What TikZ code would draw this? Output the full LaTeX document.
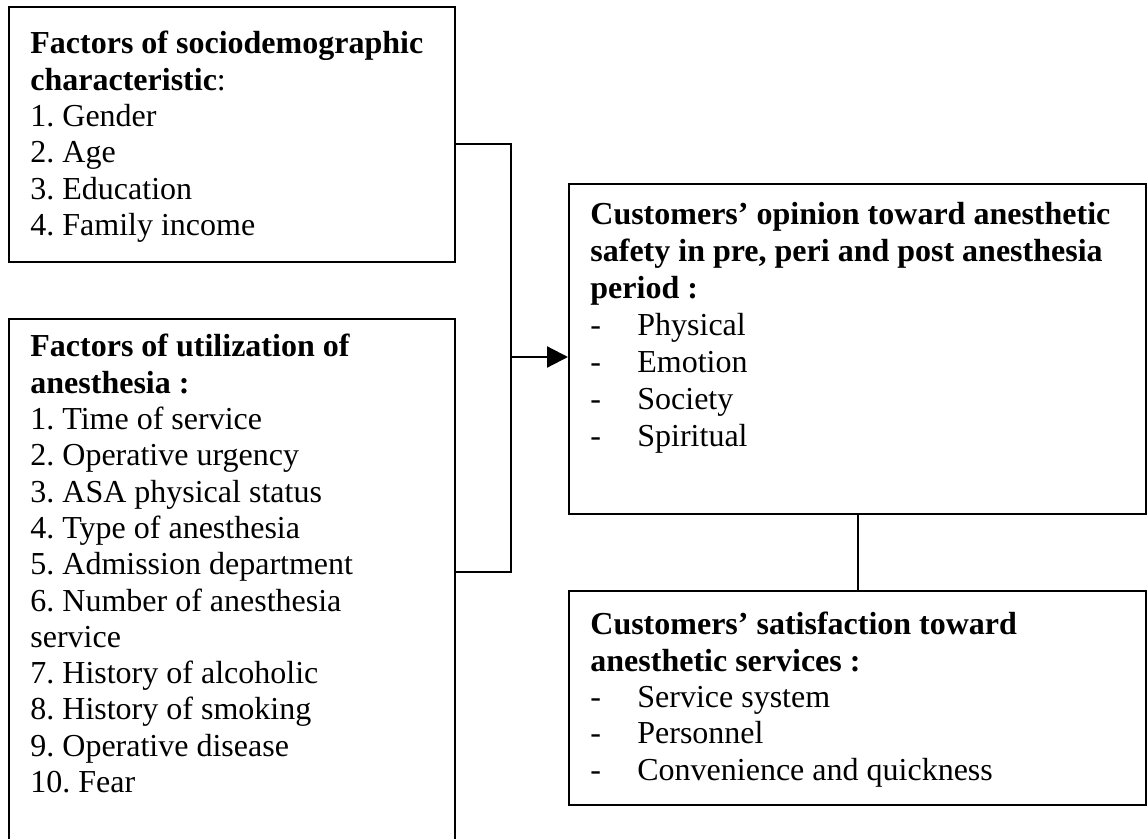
\documentclass[tikz,border=0pt]{standalone}
\usepackage{fontspec}
\setmainfont{Liberation Serif}
\usetikzlibrary{calc, positioning, arrows.meta}
\newcommand{\itm}[1]{\makebox[23.5pt][l]{-}#1}

\begin{document}
\frenchspacing
\begin{tikzpicture}
			[x=0.5pt, y=-0.5pt,
			box/.style={draw, rectangle, line width=1.1pt, anchor=north west, inner sep=0pt},
			txt/.style={anchor=north west, align=left, inner sep=0pt, font=\fontsize{16}{18.15}\selectfont}]
			\useasboundingbox (0,0) rectangle (1147,839);
			\clip (0,0) rectangle (1147,839);
			% boxes %
			\node[box, minimum width=223pt, minimum height=127.5pt] (soc) at (8,6) {};
			\node[box, minimum width=223pt, minimum height=266.5pt] (util) at (8,318) {};
			\node[box, minimum width=288.5pt, minimum height=165pt] (opin) at (568,183) {};
			\node[box, minimum width=288.5pt, minimum height=107pt] (sat) at (568,590) {};

			% texts %
			\node[txt] (soctxt) at (30,31) {\textbf{Factors of sociodemographic}\\\textbf{characteristic}:\\1. Gender\\2. Age\\3. Education\\4. Family income};
			\node[txt] (utiltxt) at (30,334) {\textbf{Factors of utilization of}\\\textbf{anesthesia :}\\1. Time of service\\2. Operative urgency\\3. ASA physical status\\4. Type of anesthesia\\5. Admission department\\6. Number of anesthesia\\service\\7. History of alcoholic\\8. History of smoking\\9. Operative disease\\10. Fear};
			\node[txt, font=\fontsize{16}{18.5}\selectfont] (opintxt) at (590,202) {\textbf{Customers’ opinion toward anesthetic}\\\textbf{safety in pre, peri and post anesthesia}\\\textbf{period :}\\\itm{Physical}\\\itm{Emotion}\\\itm{Society}\\\itm{Spiritual}};
			\node[txt] (sattxt) at (590,612) {\textbf{Customers’ satisfaction toward}\\\textbf{anesthetic services :}\\\itm{Service system}\\\itm{Personnel}\\\itm{Convenience and quickness}};

			% edges %
			\coordinate (j) at (511,357);
			\draw[line width=1.1pt] ($(soc.north east)+(0,138)$) -| (j);
			\draw[line width=1.1pt] ($(util.north east)+(0,254)$) -| (j);
			\draw[-{Triangle[length=10.5pt,width=10.5pt]}, line width=1.1pt] (j) -- (opin.west |- j);
			\draw[line width=1.1pt] (opin.south) -- (sat.north);
\end{tikzpicture}
\end{document}
